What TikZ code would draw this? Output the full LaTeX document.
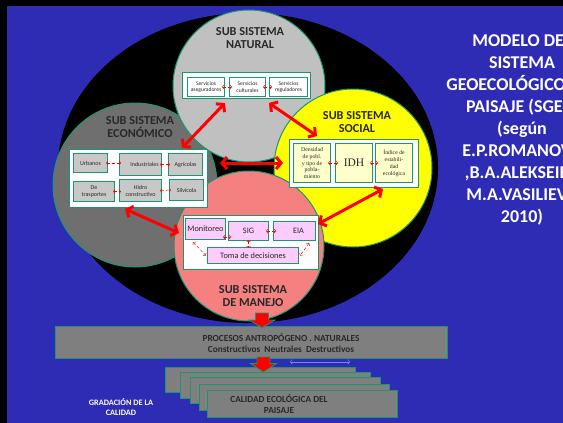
\documentclass[tikz,border=0pt]{standalone}
\usepackage{fontspec}
\setmainfont{Carlito}
\newfontfamily\tnr{Liberation Serif}
\usetikzlibrary{arrows.meta,calc}

\definecolor{slideblue}{RGB}{46,43,180}
\definecolor{edgeteal}{RGB}{26,150,112}
\definecolor{natgrey}{RGB}{192,192,192}
\definecolor{ecogrey}{RGB}{111,111,111}
\definecolor{socyellow}{RGB}{255,255,0}
\definecolor{manpink}{RGB}{244,128,128}
\definecolor{cellgrey}{RGB}{200,200,200}
\definecolor{cellcream}{RGB}{255,255,204}
\definecolor{celllilac}{RGB}{252,204,252}
\definecolor{procgrey}{RGB}{127,127,127}
\definecolor{inktext}{RGB}{40,40,40}
\definecolor{lilacline}{RGB}{130,130,225}

\begin{document}
\begin{tikzpicture}[x=1pt,y=-1pt,
  sphere/.style={circle, draw=edgeteal, line width=1pt, inner sep=0pt},
  panel/.style={draw=edgeteal, fill=white, line width=1pt, anchor=north west, inner sep=0pt},
  cell/.style={draw=edgeteal, line width=1.1pt, anchor=north west, inner sep=0.3pt,
    align=center, text=inktext},
  heading/.style={align=center, text=inktext, font=\bfseries\fontsize{12.2}{13.6}\selectfont},
  bigarrow/.style={draw=red, line width=3pt,
    {Straight Barb[length=5pt,width=12pt]}-{Straight Barb[length=5pt,width=12pt]}},
  tinyarrow/.style={draw=red, line width=0.5pt, densely dashed,
    {Straight Barb[length=1.6pt,width=4pt]}-{Straight Barb[length=1.6pt,width=4pt]}},
  graybox/.style={draw=edgeteal, fill=procgrey, line width=1pt, anchor=north west, inner sep=0pt},
  blockarrow/.style={draw=edgeteal, fill=red, line width=0.8pt}
]
% page and slide background
\useasboundingbox (0,0) rectangle (563,423);
\clip (0,0) rectangle (563,423);
\fill[black] (0,0) rectangle (563,423);
\fill[slideblue] (7,6) rectangle (563,423);

% dark ellipse holding the four subsystems
\fill[black] (248,168) ellipse [x radius=190pt, y radius=155pt];

% the four subsystem circles
\node[sphere, fill=ecogrey, minimum size=164pt] (eco) at (135,185) {};
\node[sphere, fill=natgrey, minimum size=152pt] (nat) at (249,86) {};
\node[sphere, fill=socyellow, minimum size=158pt] (soc) at (353,168) {};
\node[sphere, fill=manpink, minimum size=150pt] (man) at (249,246) {};

% headings
\node[heading] (natT) at (250,38) {SUB SISTEMA\\NATURAL};
\node[heading] (ecoT) at (140,127) {SUB SISTEMA\\ECONÓMICO};
\node[heading] (socT) at (357,122) {SUB SISTEMA\\SOCIAL};
\node[heading] (manT) at (253,296) {SUB SISTEMA\\DE MANEJO};

% natural subsystem panel
\node[panel, minimum width=128pt, minimum height=26pt] (natP) at (182,72) {};
\begin{scope}[every node/.append style={font=\fontsize{5.6}{6.4}\selectfont}]
\node[cell, fill=white, minimum width=37pt, minimum height=19pt] (ase) at (187,77) {Servicios\\aseguradores};
\node[cell, fill=white, minimum width=36pt, minimum height=19pt] (cul) at (229,77) {Servicios\\culturales};
\node[cell, fill=white, minimum width=38pt, minimum height=19pt] (reg) at (269,77) {Servicios\\reguladores};
\end{scope}
\draw[tinyarrow, shorten <=-3pt, shorten >=-3pt] (ase.east) -- (cul.west);
\draw[tinyarrow, shorten <=-3pt, shorten >=-3pt] (cul.east) -- (reg.west);

% economic subsystem panel
\node[panel, minimum width=138pt, minimum height=58pt] (ecoP) at (69,149) {};
\begin{scope}[every node/.append style={font=\fontsize{6}{7}\selectfont}]
\node[cell, fill=cellgrey, minimum width=34pt, minimum height=19pt] (urb) at (73,153) {Urbanos};
\node[cell, fill=cellgrey, minimum width=42pt, minimum height=22pt] (ind) at (119,153) {\hspace*{8pt}Industriales};
\node[cell, fill=cellgrey, minimum width=34pt, minimum height=22pt] (agr) at (168,153) {Agrícolas};
\node[cell, fill=cellgrey, minimum width=41pt, minimum height=20pt] (tra) at (73,181) {De\\trasportes};
\node[cell, fill=cellgrey, minimum width=42pt, minimum height=22pt] (hid) at (119,179) {Hidro\\constructivo};
\node[cell, fill=cellgrey, minimum width=34pt, minimum height=21pt] (sil) at (169,179) {Silvícola};
\end{scope}
\draw[tinyarrow, shorten <=-2pt, shorten >=-2pt] (urb.east) -- (urb.east -| ind.west);
\draw[tinyarrow, shorten <=-2pt, shorten >=-2pt] (ind.east) -- (agr.west);
\draw[tinyarrow, shorten <=-2pt, shorten >=-2pt] (tra.east) -- (tra.east -| hid.west);
\draw[tinyarrow, shorten <=-2pt, shorten >=-2pt] (hid.east) -- (sil.west);

% social subsystem panel
\node[panel, minimum width=129pt, minimum height=48pt] (socP) at (289,139) {};
\node[cell, fill=cellcream, minimum width=37pt, minimum height=39pt, font=\tnr\fontsize{5.8}{6.9}\selectfont] (den) at (293,143) {Densidad\\de pobl.\\y tipo de\\pobla-\\miento};
\node[cell, fill=cellcream, minimum width=37pt, minimum height=39pt, font=\tnr\fontsize{11.5}{13}\selectfont] (idh) at (335,143) {IDH};
\node[cell, fill=cellcream, minimum width=37pt, minimum height=39pt, font=\tnr\fontsize{5.8}{6.9}\selectfont] (ind2) at (375,143) {Índice de\\estabili-\\dad\\ecológica};
\draw[tinyarrow, shorten <=-3pt, shorten >=-3pt] (den.east) -- (idh.west);
\draw[tinyarrow, shorten <=-3pt, shorten >=-3pt] (idh.east) -- (ind2.west);

% management subsystem panel
\node[panel, minimum width=135pt, minimum height=54pt] (manP) at (183,215) {};
\begin{scope}[every node/.append style={font=\fontsize{8.3}{9.5}\selectfont}]
\node[cell, fill=celllilac, minimum width=40pt, minimum height=21pt] (mon) at (185,218) {Monitoreo};
\node[cell, fill=celllilac, minimum width=40pt, minimum height=19pt] (sig) at (228,221) {SIG};
\node[cell, fill=celllilac, minimum width=42pt, minimum height=19pt] (eia) at (273,221) {\hspace*{8pt}EIA};
\node[cell, fill=celllilac, minimum width=91pt, minimum height=16pt] (tom) at (207,247) {Toma de decisiones};
\end{scope}
\draw[tinyarrow] ($(mon.south east)+(-3,-3)$) -- ($(sig.south west)+(3,-4)$);
\draw[tinyarrow, shorten <=-3pt, shorten >=-3pt] (sig.east) -- (eia.west);
\draw[tinyarrow, shorten <=-1pt, shorten >=-1pt] (sig.south) -- (sig.south |- tom.north);
\draw[tinyarrow] ($(mon.south west)+(8,2)$) -- ($(tom.west)+(-1,0)$);
\draw[tinyarrow] ($(eia.south east)+(-7,2)$) -- ($(tom.east)+(1,0)$);

% links between the subsystems
\draw[bigarrow] ($(natP.south west)+(43,4)$) -- ($(ecoP.north east)+(-26,-1)$);
\draw[bigarrow] ($(natP.south east)+(-42,4)$) -- ($(socP.north west)+(28,-3)$);
\draw[bigarrow] ($(ecoP.north east)+(12,14)$) -- ($(socP.north west)+(-6,24)$);
\draw[bigarrow] ($(ecoP.south west)+(56,1)$) -- ($(manP.north west)+(-4,18)$);
\draw[bigarrow] ($(socP.south east)+(-36,1)$) -- ($(manP.north east)+(-1,9)$);

% title
\node[align=center, text=white, font=\bfseries\fontsize{18}{22.1}\selectfont] (title) at (522,130)
  {MODELO DEL\\SISTEMA\\GEOECOLÓGICO DEL\\PAISAJE (SGEP)\\(según\\E.P.ROMANOVA\\,B.A.ALEKSEIEV\\M.A.VASILIEVA\\2010)};

% processes band
\node[graybox, minimum width=392pt, minimum height=32pt] (proc) at (55,326) {};
\node[align=center, text=inktext, font=\bfseries\fontsize{9.3}{11}\selectfont] (procT) at (281,343)
  {PROCESOS ANTROPÓGENO . NATURALES\\Constructivos\ \ Neutrales\ \ Destructivos};

% stacked quality sheets
\node[graybox, minimum width=190pt, minimum height=25pt] (q1) at (165,367) {};
\node[graybox, minimum width=190pt, minimum height=26pt] (q2) at (180,372) {};
\node[graybox, minimum width=190pt, minimum height=26pt] (q3) at (190,377) {};
\node[graybox, minimum width=190pt, minimum height=26pt] (q4) at (199,384) {};
\node[graybox, minimum width=190pt, minimum height=27pt] (q5) at (207,390) {};
\node[align=center, text=inktext, font=\bfseries\fontsize{9.3}{11}\selectfont] (qT) at (279,404)
  {CALIDAD ECOLÓGICA DEL\\PAISAJE};
\node[align=center, text=white, font=\bfseries\fontsize{8.3}{10}\selectfont] (grad) at (121,407)
  {GRADACIÓN DE LA\\CALIDAD};

% downward block arrows
\filldraw[blockarrow] (255.5,313) -- (268.5,313) -- (268.5,320) -- (275,320) -- (262,327.5)
  -- (249,320) -- (255.5,320) -- cycle;
\filldraw[blockarrow] (257,357) -- (270,357) -- (270,363.5) -- (276.5,363.5) -- (263.5,372)
  -- (250.5,363.5) -- (257,363.5) -- cycle;

% thin double arrow above the sheets
\coordinate (scaleL) at (290,362);
\coordinate (scaleR) at (350,362);
\draw[lilacline, line width=0.5pt, {Straight Barb[length=2pt,width=5pt]}-{Straight Barb[length=2pt,width=5pt]}] (scaleL) -- (scaleR);
\end{tikzpicture}
\end{document}
